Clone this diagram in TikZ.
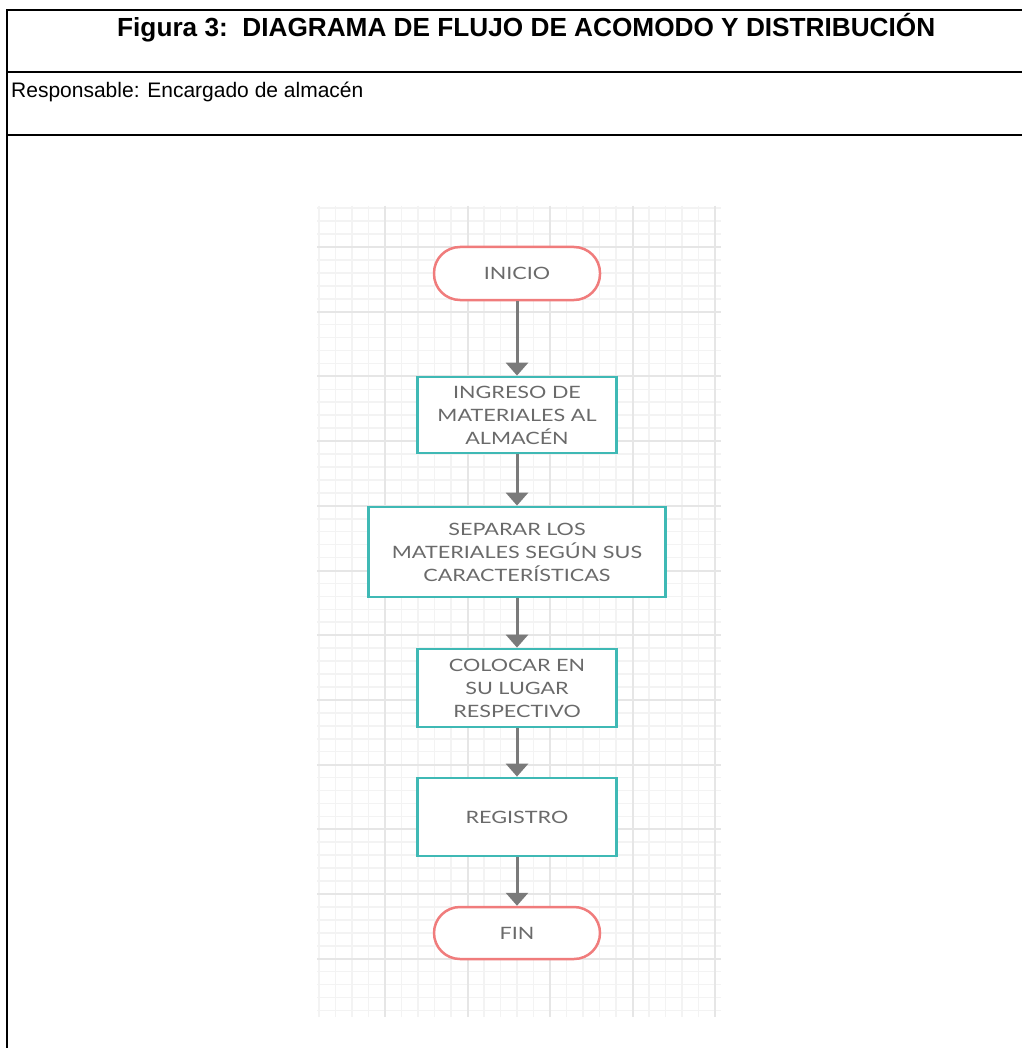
\documentclass[tikz,border=0pt]{standalone}
\usepackage{fontspec}
\setmainfont{Liberation Sans}
\newfontfamily\hdrfont{Liberation Sans}
\newfontfamily\flowfont[FakeStretch=1.27]{Lato}
\usetikzlibrary{arrows.meta}
\definecolor{boxteal}{HTML}{3FB9B5}
\definecolor{termred}{HTML}{F07C7C}
\definecolor{arrgray}{HTML}{7A7A7A}
\definecolor{txtgray}{HTML}{6A6A6A}
\definecolor{gridminor}{HTML}{F3F3F3}
\definecolor{gridmajor}{HTML}{E6E6E6}
\tikzset{
  frameline/.style={line width=2.4pt, black},
  gminor/.style={line width=1.6pt, gridminor},
  gmajor/.style={line width=2pt, gridmajor},
  flowtext/.style={text=txtgray, font=\flowfont\fontsize{17}{23}\selectfont, align=center, inner sep=0pt},
  term/.style={flowtext, draw=termred, line width=2.5pt, fill=white, rounded corners=26pt, minimum width=166pt, minimum height=53pt},
  proc/.style={flowtext, draw=boxteal, line width=2.8pt, fill=white, minimum width=199pt},
  arr/.style={draw=arrgray, line width=3pt, -{Triangle[width=22pt,length=13pt]}}
}
\begin{document}
\begin{tikzpicture}[x=1pt,y=-1pt]
\useasboundingbox (0,0) rectangle (1022,1048);
\fill[white] (0,0) rectangle (1022,1048);
% grid
\foreach \i in {-4,...,20} {\draw[gminor] (385+\i*16.5,206) -- (385+\i*16.5,1017);}
\foreach \j in {-3,...,59} {\draw[gminor] (317,247+\j*12.94) -- (721,247+\j*12.94);}
\foreach \i in {0,...,4} {\draw[gmajor] (385+\i*82.5,206) -- (385+\i*82.5,1017);}
\foreach \j in {0,...,11} {\draw[gmajor] (317,247+\j*64.7) -- (721,247+\j*64.7);}
% table frame
\draw[frameline] (7,1048) -- (7,10) -- (1022,10);
\draw[frameline] (7,72) -- (1022,72);
\draw[frameline] (7,135) -- (1022,135);
\node[anchor=base west, inner sep=0pt, font=\hdrfont\bfseries\fontsize{26.2}{30}\selectfont] (title) at (117,37) {Figura 3:\ \ DIAGRAMA DE FLUJO DE ACOMODO Y DISTRIBUCIÓN};
\node[anchor=base west, inner sep=0pt, font=\hdrfont\fontsize{21}{25}\selectfont] (resp) at (11,98) {Responsable: Encargado de almacén};
% flowchart
\node[term] (inicio) at (517,273.5) {INICIO};
\node[proc, minimum height=76pt] (ingreso) at (517,415) {INGRESO DE\\MATERIALES AL\\ALMACÉN};
\node[proc, minimum width=297pt, minimum height=90pt] (separar) at (517,552) {SEPARAR LOS\\MATERIALES SEGÚN SUS\\CARACTERÍSTICAS};
\node[proc, minimum height=78pt] (colocar) at (517,688) {COLOCAR EN\\SU LUGAR\\RESPECTIVO};
\node[proc, minimum height=78pt] (registro) at (517,817) {REGISTRO};
\node[term, minimum height=52pt] (fin) at (517,933) {FIN};
\draw[arr] (inicio) -- (ingreso);
\draw[arr] (ingreso) -- (separar);
\draw[arr] (separar) -- (colocar);
\draw[arr] (colocar) -- (registro);
\draw[arr] (registro) -- (fin);
\end{tikzpicture}
\end{document}
